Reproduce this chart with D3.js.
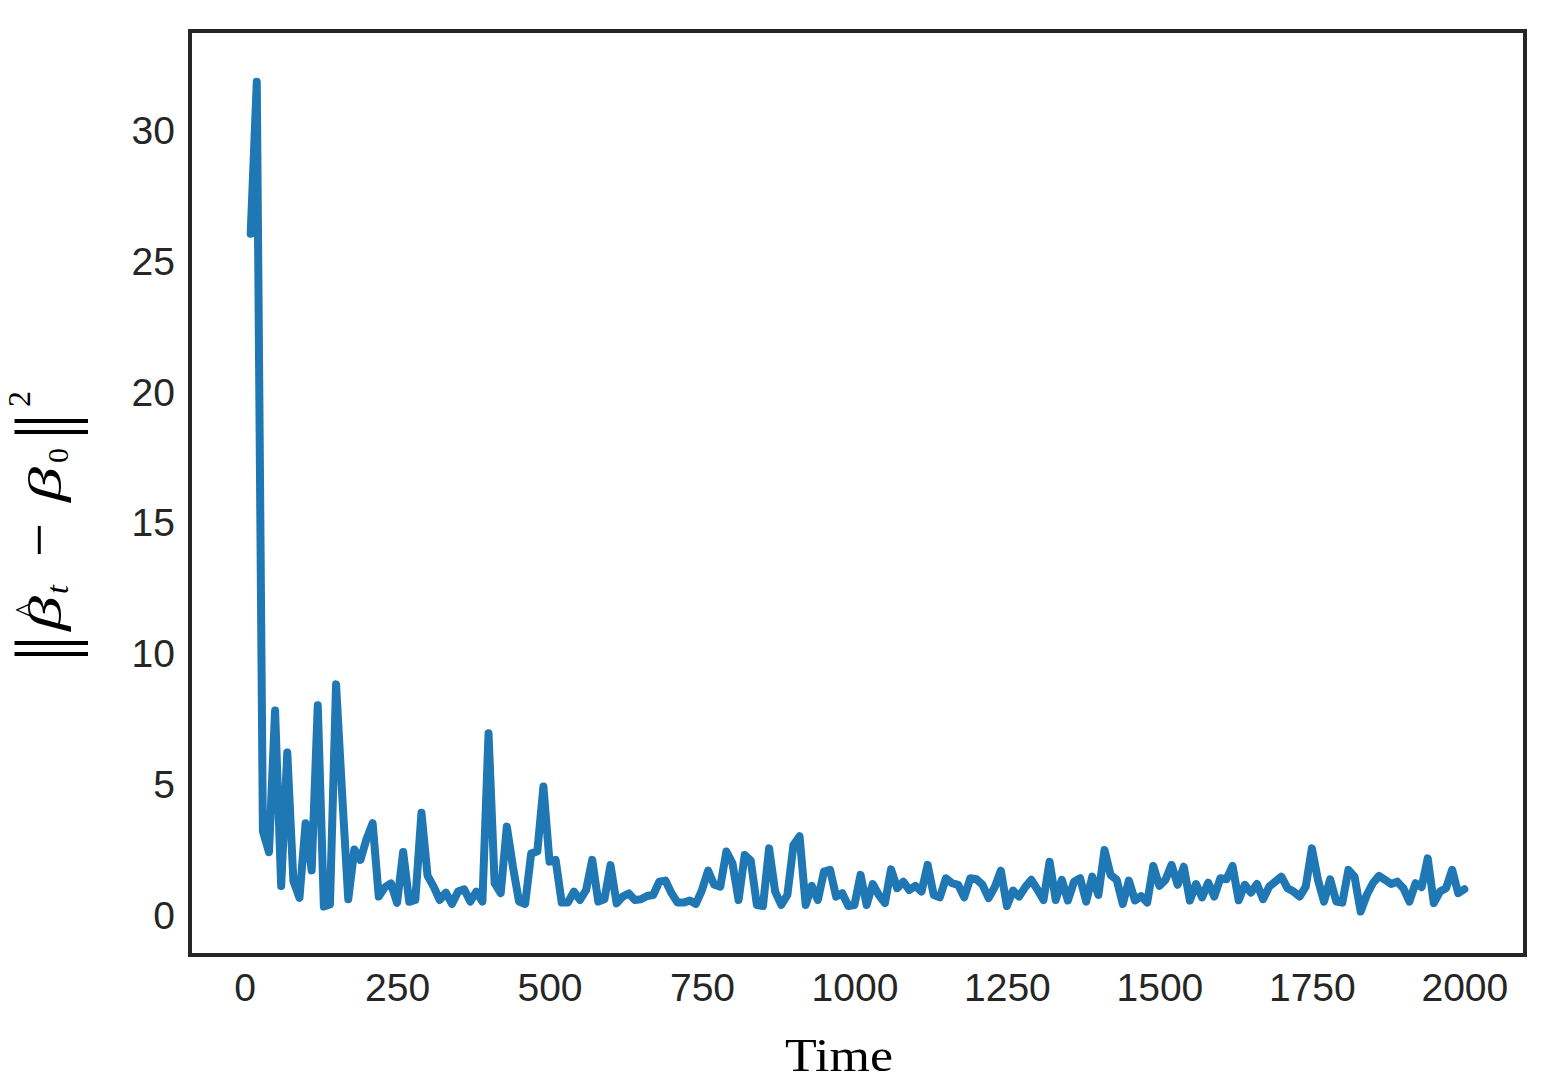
<!DOCTYPE html>
<html>
<head>
<meta charset="utf-8">
<script src="https://cdn.jsdelivr.net/npm/d3@7"></script>
<style>
  html, body { margin: 0; padding: 0; background: #ffffff; }
  svg { display: block; }
</style>
</head>
<body>
<svg id="chart" width="1553" height="1080"></svg>
<script>
// ---- data ----
const times = [
  10,20,30,40,50,60,70,80,90,100,110,120,130,140,150,160,170,180,190,200,
  210,220,230,240,250,260,270,280,290,300,310,320,330,340,350,360,370,380,390,400,
  410,420,430,440,450,460,470,480,490,500,510,520,530,540,550,560,570,580,590,600,
  610,620,630,640,650,660,670,680,690,700,710,720,730,740,750,760,770,780,790,800,
  810,820,830,840,850,860,870,880,890,900,910,920,930,940,950,960,970,980,990,1000,
  1010,1020,1030,1040,1050,1060,1070,1080,1090,1100,1110,1120,1130,1140,1150,1160,1170,1180,1190,1200,
  1210,1220,1230,1240,1250,1260,1270,1280,1290,1300,1310,1320,1330,1340,1350,1360,1370,1380,1390,1400,
  1410,1420,1430,1440,1450,1460,1470,1480,1490,1500,1510,1520,1530,1540,1550,1560,1570,1580,1590,1600,
  1610,1620,1630,1640,1650,1660,1670,1680,1690,1700,1710,1720,1730,1740,1750,1760,1770,1780,1790,1800,
  1810,1820,1830,1840,1850,1860,1870,1880,1890,1900,1910,1920,1930,1940,1950,1960,1970,1980,1990,2000
];
const errors = [
  26.0,31.8,3.2,2.4,7.8,1.1,6.2,1.3,0.65,3.5,1.7,8.0,0.32,0.4,8.8,4.6,0.6,2.5,2.1,2.9,
  3.5,0.7,1.05,1.2,0.46,2.4,0.5,0.57,3.9,1.5,1.08,0.57,0.85,0.42,0.89,0.98,0.51,0.89,0.51,6.93,
  1.21,0.83,3.37,1.84,0.51,0.42,2.35,2.42,4.9,2.03,2.1,0.47,0.47,0.89,0.57,0.95,2.1,0.51,0.6,1.9,
  0.44,0.7,0.82,0.57,0.6,0.72,0.76,1.27,1.31,0.83,0.47,0.47,0.55,0.42,0.95,1.69,1.15,1.08,2.42,1.97,
  0.57,2.29,2.07,0.38,0.34,2.54,0.89,0.38,0.76,2.67,3.0,0.38,1.11,0.57,1.65,1.72,0.7,0.83,0.34,0.38,
  1.53,0.38,1.18,0.76,0.45,1.74,1.02,1.27,0.95,1.11,0.89,1.91,0.76,0.67,1.4,1.21,1.15,0.67,1.4,1.36,
  1.15,0.64,1.06,1.69,0.34,0.93,0.7,1.06,1.34,0.97,0.57,2.03,0.57,1.34,0.55,1.27,1.4,0.51,1.46,0.76,
  2.48,1.53,1.34,0.42,1.31,0.55,0.72,0.47,1.87,1.11,1.34,1.91,1.15,1.84,0.55,1.18,0.67,1.23,0.7,1.4,
  1.36,1.87,0.56,1.15,0.85,1.18,0.6,1.08,1.27,1.46,1.02,0.89,0.7,1.08,2.54,1.34,0.51,1.36,0.51,0.47,
  1.72,1.46,0.13,0.76,1.21,1.49,1.34,1.18,1.27,1.02,0.51,1.21,1.06,2.16,0.45,0.89,1.02,1.72,0.83,0.98
];
const xTicks = [0, 250, 500, 750, 1000, 1250, 1500, 1750, 2000];
const yTicks = [0, 5, 10, 15, 20, 25, 30];

// ---- layout ----
const plot = { left: 190, right: 1525, top: 31, bottom: 955 };
const svg = d3.select("#chart");

const x = d3.scaleLinear().domain([-89.5, 2099.5]).range([plot.left, plot.right]);
const y = d3.scaleLinear().domain([-1.53, 33.74]).range([plot.bottom, plot.top]);

const tickFont = "'Liberation Sans', Arial, Helvetica, sans-serif";
const textColor = "#262626";

// x axis (labels only, no tick marks)
const xAxis = d3.axisBottom(x).tickValues(xTicks).tickSize(0).tickPadding(0).tickFormat(d3.format("d"));
const gx = svg.append("g").attr("transform", `translate(0,${plot.bottom})`).call(xAxis);
gx.select(".domain").remove();
gx.selectAll("text")
  .attr("dy", null).attr("y", 46)
  .style("font-family", tickFont).style("font-size", "39px").attr("fill", textColor);

// y axis
const yAxis = d3.axisLeft(y).tickValues(yTicks).tickSize(0).tickPadding(0).tickFormat(d3.format("d"));
const gy = svg.append("g").attr("transform", `translate(${plot.left},0)`).call(yAxis);
gy.select(".domain").remove();
gy.selectAll("text")
  .attr("x", -15).attr("dy", "0.36em")
  .style("font-family", tickFont).style("font-size", "39px").attr("fill", textColor);

// clip
svg.append("clipPath").attr("id", "clip").append("rect")
  .attr("x", plot.left).attr("y", plot.top)
  .attr("width", plot.right - plot.left).attr("height", plot.bottom - plot.top);

// line
const data = times.map((t, i) => ({ t, v: errors[i] }));
const line = d3.line().x(d => x(d.t)).y(d => y(d.v));
svg.append("path")
  .datum(data)
  .attr("clip-path", "url(#clip)")
  .attr("d", line)
  .attr("fill", "none")
  .attr("stroke", "#1f77b4")
  .attr("stroke-width", 8)
  .attr("stroke-linejoin", "round")
  .attr("stroke-linecap", "round");

// frame
svg.append("rect")
  .attr("x", plot.left).attr("y", plot.top)
  .attr("width", plot.right - plot.left).attr("height", plot.bottom - plot.top)
  .attr("fill", "none").attr("stroke", "#262626").attr("stroke-width", 4);

// x label
const serif = "'Liberation Serif', 'DejaVu Serif', 'Times New Roman', serif";
svg.append("text")
  .attr("x", 839)
  .attr("y", 1071)
  .attr("text-anchor", "middle")
  .attr("textLength", 108).attr("lengthAdjust", "spacingAndGlyphs")
  .style("font-family", serif).style("font-size", "46px").attr("fill", "#000")
  .text("Time");

// y label: ||β̂_t − β_0||², rotated; local x runs upward along the label
const lab = svg.append("g").attr("transform", "translate(60,660) rotate(-90)")
  .style("font-family", serif).attr("fill", "#000");
function piece(txt, xl, yl, size, italic, anchor) {
  return lab.append("text")
    .attr("x", xl).attr("y", yl)
    .attr("text-anchor", anchor || "start")
    .style("font-size", size + "px")
    .style("font-style", italic ? "italic" : "normal")
    .text(txt);
}
piece("||", -2, 11, 80, false).attr("letter-spacing", "-5px");
piece("\u03B2", 29, 1, 46, true).attr("textLength", 35).attr("lengthAdjust", "spacingAndGlyphs");
piece("^", 50, -24, 30, false, "middle");
piece("t", 66, 8, 32, true);
piece("\u2212", 103, -1, 60, false).attr("textLength", 34).attr("lengthAdjust", "spacingAndGlyphs");
piece("\u03B2", 158, 1, 46, true).attr("textLength", 35).attr("lengthAdjust", "spacingAndGlyphs");
piece("0", 197, 8, 30, false);
piece("||", 220, 11, 80, false).attr("letter-spacing", "-5px");
piece("2", 253, -30, 32, false);
</script>
</body>
</html>
